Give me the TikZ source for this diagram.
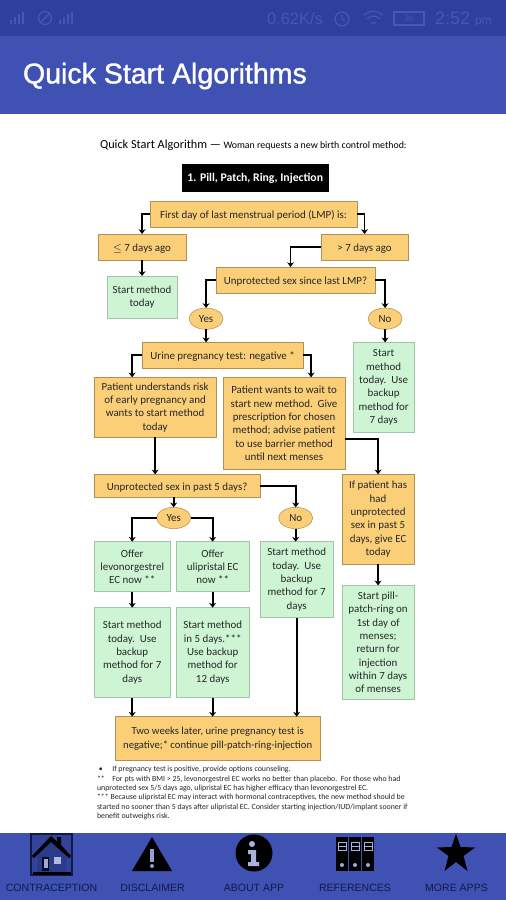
\documentclass[tikz,border=0pt]{standalone}
\usepackage{fontspec}
\setmainfont{Carlito}
\newfontfamily\appfont{Liberation Sans}
\newfontfamily\titlefont[FakeBold=1.2]{Liberation Sans}
\usepackage{xcolor}
\usetikzlibrary{shapes.geometric,arrows.meta,positioning}
\definecolor{barblue}{HTML}{3F51B3}
\definecolor{statusblue}{HTML}{2F3F9E}
\definecolor{statusink}{HTML}{4558B2}
\definecolor{boxorange}{HTML}{FBCE78}
\definecolor{boxgreen}{HTML}{CDF5D4}
\definecolor{navy}{HTML}{101A4A}

\begin{document}
\begin{tikzpicture}[
  x=0.75pt, y=-0.75pt,
  every node/.style={font=\fontsize{8.2}{10}\selectfont, outer sep=0pt},
  askbox/.style={draw=black!30!boxorange, fill=boxorange, align=center, inner sep=1pt, line width=0.5pt,
                 text=black!85, execute at begin node={\rule{0pt}{8pt}}},
  startbox/.style={draw=black!20!boxgreen, fill=boxgreen, align=center, inner sep=1pt, line width=0.5pt,
                 text=black!85, execute at begin node={\rule{0pt}{8pt}}},
  answer/.style={draw=black!30!boxorange, fill=boxorange, ellipse, inner sep=0pt, text=black!85,
                 minimum width=25.5pt, minimum height=16pt},
  arrow/.style={-{Stealth[length=3.6pt,width=5.2pt]}, line width=1.4pt},
  applabel/.style={font=\appfont\fontsize{7.9}{9}\selectfont, text=navy},
  statustext/.style={font=\appfont\fontsize{12.3}{13}\selectfont, text=statusink},
]
% app frame
\fill[white] (0,0) rectangle (506,900);
\fill[statusblue] (0,0) rectangle (506,36);
\fill[barblue] (0,36) rectangle (506,113.5);
\fill[barblue] (0,833) rectangle (506,900);
% status bar
\draw[statusink, line width=1.2pt] (11,24) -- (11,20) (15,24) -- (15,17) (19,24) -- (19,14) (23,24) -- (23,12);
\draw[statusink, line width=0.9pt] (45,18) circle (6.5) (41,22) -- (49,14);
\draw[statusink, line width=1.2pt] (60,24) -- (60,20) (64,24) -- (64,17) (68,24) -- (68,14) (72,24) -- (72,12);
\draw[statusink, line width=0.9pt] (342,19) circle (7) (342,15) -- (342,19) -- (345,21);
\draw[statusink, line width=0.9pt] (364,15) .. controls (369,10) and (378,10) .. (383,15)
  (367,19) .. controls (371,15) and (376,15) .. (380,19) (371,23) -- (376,23);
\draw[statusink, line width=0.9pt] (394,12) rectangle (424,25);
\node[statustext] (clockspeed) at (295,19) {0.62K/s};
\node[statustext, font=\appfont\fontsize{6}{7}\selectfont] (battery) at (409,19) {36};
\node[statustext, font=\appfont\fontsize{13.5}{14}\selectfont, anchor=west, inner sep=0pt] (clocktime) at (435,19) {2:52 {\fontsize{9}{10}\selectfont pm}};
% title
\node[font=\titlefont\fontsize{21.4}{24}\selectfont, text=white, anchor=west, inner sep=0pt] (apptitle) at (23,76) {Quick Start Algorithms};
\node[anchor=west, inner sep=0pt] (caption) at (100,145)
   {{\fontsize{9.2}{10}\selectfont Quick Start Algorithm ---} {\fontsize{7.4}{10}\selectfont Woman requests a new birth control method:}};
% top of the chart
\node[fill=black, text=white, font=\bfseries\fontsize{8.8}{10}\selectfont, minimum width=110.25pt, minimum height=21pt] (pill) at (255.25,178)
   {1. Pill, Patch, Ring, Injection};
\node[askbox, below=6.75pt of pill, xshift=-1.3pt, minimum width=155.25pt, minimum height=19.5pt] (lmp)
   {First day of last menstrual period (LMP) is:};
\node[askbox, below=5.25pt of lmp, xshift=-83.6pt, minimum width=66pt, minimum height=19.5pt] (early) {$\leq$ 7 days ago};
\node[askbox, right=101.25pt of early, minimum width=65.25pt, minimum height=19.5pt] (late) {> 7 days ago};
\node[startbox, below=12pt of early, minimum width=52.5pt, minimum height=31.5pt] (today)
   {Start method\\today};
\node[askbox, below=5.25pt of late, xshift=-51.75pt, minimum width=119.25pt, minimum height=19.5pt] (since)
   {Unprotected sex since last LMP?};
\node[answer, below=11.25pt of since, xshift=-67.1pt] (yesa) {Yes};
\node[answer, right=108.75pt of yesa] (noa) {No};
% urine test
\node[askbox, below=9.75pt of yesa, xshift=12.4pt, minimum width=120.75pt, minimum height=19.5pt] (urine)
   {Urine pregnancy test: negative *};
\node[startbox, below=9.75pt of noa, xshift=-1.1pt, minimum width=45.75pt, minimum height=67.5pt] (backup)
   {Start\\method\\today.\ \ Use\\backup\\method for\\7 days};
\node[askbox, below=6.75pt of urine, xshift=-50.6pt, minimum width=91.5pt, minimum height=45pt] (risk)
   {Patient understands risk\\of early pregnancy and\\wants to start method\\today};
\node[askbox, below=6.75pt of urine, xshift=46.1pt, minimum width=91.5pt, minimum height=69pt] (wait)
   {Patient wants to wait to\\start new method.\ \ Give\\prescription for chosen\\method; advise patient\\to use barrier method\\until next menses};
% past 5 days
\node[askbox, below=27.75pt of risk, xshift=16.5pt, minimum width=124.5pt, minimum height=17.25pt] (five)
   {Unprotected sex in past 5 days?};
\node[askbox, below=3.75pt of wait, xshift=70.5pt, minimum width=54pt, minimum height=67.5pt] (giveec)
   {If patient has\\had\\unprotected\\sex in past 5\\days, give EC\\today};
\node[answer, below=7.5pt of five, xshift=-2.6pt] (yesb) {Yes};
\node[answer, right=66pt of yesb] (nob) {No};
\node[startbox, below=9.75pt of yesb, xshift=-31.1pt, minimum width=57pt, minimum height=37.5pt] (levo)
   {Offer\\levonorgestrel\\EC now **};
\node[startbox, below=9.75pt of yesb, xshift=29.25pt, minimum width=54.75pt, minimum height=37.5pt] (uli)
   {Offer\\ulipristal EC\\now **};
\node[startbox, below=9.75pt of nob, xshift=0.75pt, minimum width=54.75pt, minimum height=57pt] (nosex)
   {Start method\\today.\ \ Use\\backup\\method for 7\\days};
\node[startbox, below=12pt of levo, minimum width=57pt, minimum height=67.5pt] (levostart)
   {Start method\\today.\ \ Use\\backup\\method for 7\\days};
\node[startbox, below=12pt of uli, minimum width=54.75pt, minimum height=67.5pt] (ulistart)
   {Start method\\in 5 days.***\\Use backup\\method for\\12 days};
\node[startbox, below=15.75pt of giveec, minimum width=54pt, minimum height=85.5pt] (menses)
   {Start pill-\\patch-ring on\\1st day of\\menses;\\return for\\injection\\within 7 days\\of menses};
\node[askbox, below=14.25pt of levostart, xshift=64.1pt, minimum width=153.75pt, minimum height=33pt,
      font=\fontsize{8}{10}\selectfont] (retest)
   {Two weeks later, urine pregnancy test is\\negative;* continue pill-patch-ring-injection};
% footnotes
\node[anchor=north west, inner sep=0pt, align=left, text=black!85, font=\fontsize{5.9}{7}\selectfont] (notes) at (97,766.5)
   {\makebox[11.5pt][l]{\ \textbullet}If pregnancy test is positive, provide options counseling.\\
    \makebox[11.5pt][l]{**}For pts with BMI > 25, levonorgestrel EC works no better than placebo.\ \ For those who had\\
    unprotected sex 5/5 days ago, ulipristal EC has higher efficacy than levonorgestrel EC.\\
    *** Because ulipristal EC may interact with hormonal contraceptives, the new method should be\\
    started no sooner than 5 days after ulipristal EC. Consider starting injection/IUD/implant sooner if\\
    benefit outweighs risk.};
% arrows
\draw[arrow] (lmp.west) -| (early.north);
\draw[arrow] (lmp.east) -| (late.north);
\draw[arrow] (early) -- (today);
\draw[arrow] (late.west) -| ([xshift=-3.75pt]since.north);
\draw[arrow] (since.west) -| (yesa.north);
\draw[arrow] (since.east) -| (noa.north);
\draw[arrow] (yesa.south) -- (yesa.south |- urine.north);
\draw[arrow] (noa.south) -- (noa.south |- backup.north);
\draw[arrow] (urine.west) -| ([xshift=-17.25pt]risk.north);
\draw[arrow] (urine.east) -| ([xshift=20.25pt]wait.north);
\draw[arrow] (risk.south) -- (risk.south |- five.north);
\draw[arrow] ([yshift=-12pt]wait.east) -| (giveec.north);
\draw[arrow] (five.south -| yesb.north) -- (yesb.north);
\draw[arrow] (five.east) -| (nob.north);
\draw[arrow] (yesb.west) -| (levo.north);
\draw[arrow] (yesb.east) -| (uli.north);
\draw[arrow] (nob.south) -- (nob.south |- nosex.north);
\draw[arrow] (levo) -- (levostart);
\draw[arrow] (uli) -- (ulistart);
\draw[arrow] (giveec) -- (menses);
\draw[arrow] (levostart.south) -- (levostart.south |- retest.north);
\draw[arrow] (ulistart.south) -- (ulistart.south |- retest.north);
\draw[arrow] (nosex.south) -- (nosex.south |- retest.north);
% bottom bar icons
\draw[navy, line width=0.8pt, fill=barblue!75!navy] (31,834) rectangle (72,875);
\fill[barblue!60!navy] (37,854) -- (52,841) -- (66,854) -- (66,874) -- (37,874) -- cycle;
\fill[black] (32,856) -- (51,836) -- (57,841.5) -- (57,837) -- (61,837) -- (61,845) -- (71,856) -- (69,858) -- (51,842) -- (34,858) -- cycle;
\fill[black] (33,872) rectangle (71,875);
\fill[black!60!navy] (42,857) rectangle (49,871);
\fill[barblue!50!white] (43.5,859) rectangle (47.5,868);
\fill[barblue!40!white] (54,857) rectangle (61,864);
\fill[black] (132,871) -- (152,837) -- (172,871) -- cycle;
\fill[barblue!55!white] (150,849) rectangle (154,862);
\fill[barblue!55!white] (152,866) circle (2);
\fill[black] (254,853) circle (18.5);
\fill[barblue!45!white] (252,844) circle (3);
\fill[barblue!45!white] (248,850) -- (256,850) -- (256,862) -- (259,862) -- (259,866) -- (248,866) -- (248,862) -- (251,862) -- (251,854) -- (248,854) -- cycle;
\foreach \binderx in {336,349,362}{
  \fill[black] (\binderx,837) rectangle ++(12,34);
  \draw[barblue!45!white, line width=0.5pt] (\binderx+2,842) rectangle ++(8,8);
  \draw[barblue!45!white, line width=0.5pt] (\binderx+2,846) -- ++(8,0);
  \fill[barblue!50!white] (\binderx+6,865) circle (2);
}
\fill[black] (456,834) -- (460.5,847) -- (475,847.5) -- (463.5,856) -- (467.5,871) -- (456,862) -- (444.5,871) -- (448.5,856) -- (437,847.5) -- (451.5,847) -- cycle;
\node[applabel] (contraception) at (51.5,888) {CONTRACEPTION};
\node[applabel] (disclaimer) at (152.5,888) {DISCLAIMER};
\node[applabel] (aboutapp) at (254,888) {ABOUT APP};
\node[applabel] (references) at (355,888) {REFERENCES};
\node[applabel] (moreapps) at (456.5,888) {MORE APPS};
\end{tikzpicture}
\end{document}
